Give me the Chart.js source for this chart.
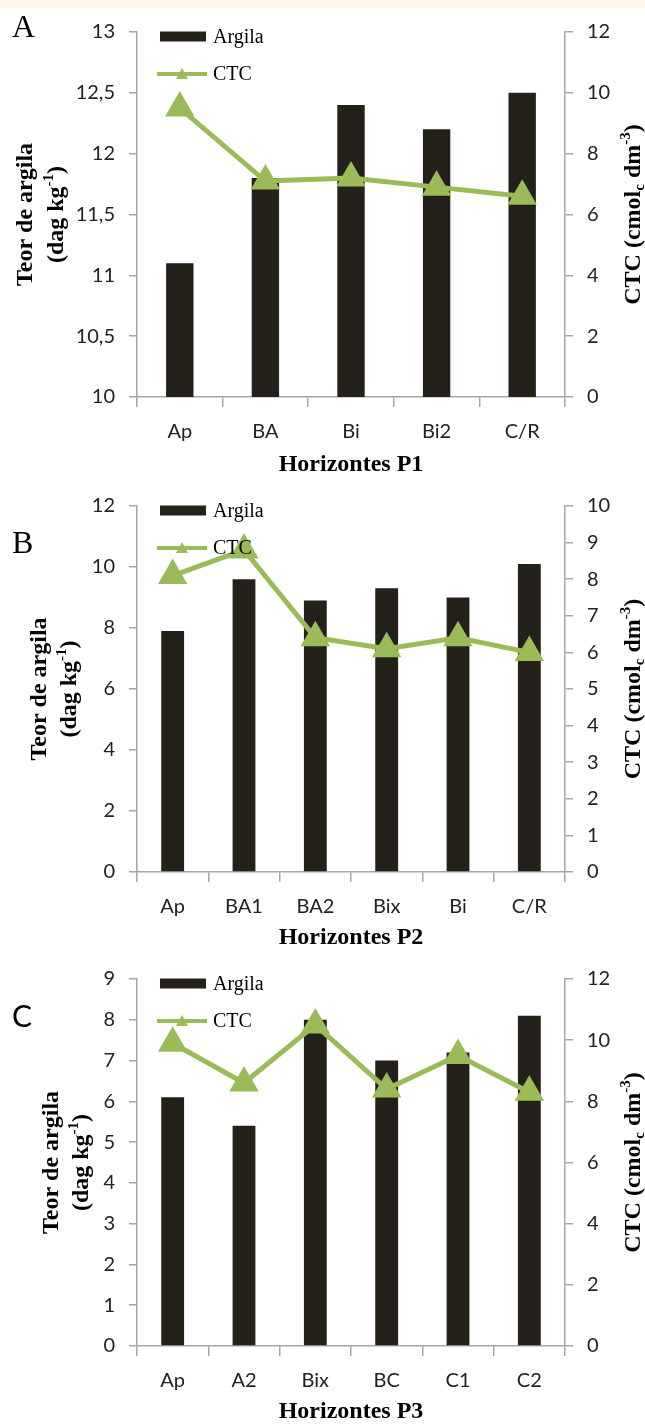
<!DOCTYPE html>
<html lang="pt-br">
<head>
<meta charset="UTF-8">
<title>Argila e CTC por horizonte</title>
<style>
    body { margin: 0; background: #fff; }
    .faixa { position: absolute; left: 0; top: 0; width: 645px; height: 8px; background: #fdf8e9; }
    canvas { position: absolute; left: 0; }
</style>
</head>
<body>
<div class="faixa"></div>
<canvas id="graficoA" width="645" height="480" style="top:0px"></canvas>
<canvas id="graficoB" width="645" height="470" style="top:480px"></canvas>
<canvas id="graficoC" width="645" height="475" style="top:950px"></canvas>
<script src="https://cdn.jsdelivr.net/npm/chart.js"></script>
<script>
const horizontesP1 = ['Ap', 'BA', 'Bi', 'Bi2', 'C/R']
const argilaP1 = [11.1, 11.8, 12.4, 12.2, 12.5]
const ctcP1 = [9.5, 7.1, 7.2, 6.9, 6.6]

const horizontesP2 = ['Ap', 'BA1', 'BA2', 'Bix', 'Bi', 'C/R']
const argilaP2 = [7.9, 9.6, 8.9, 9.3, 9.0, 10.1]
const ctcP2 = [8.1, 8.8, 6.4, 6.1, 6.4, 6.0]

const horizontesP3 = ['Ap', 'A2', 'Bix', 'BC', 'C1', 'C2']
const argilaP3 = [6.1, 5.4, 8.0, 7.0, 7.2, 8.1]
const ctcP3 = [9.9, 8.6, 10.5, 8.4, 9.5, 8.3]

// eixos: [min, max, passo]
const eixoArgilaP1 = [10, 13, 0.5]
const eixoCtcP1 = [0, 12, 2]
const eixoArgilaP2 = [0, 12, 2]
const eixoCtcP2 = [0, 10, 1]
const eixoArgilaP3 = [0, 9, 1]
const eixoCtcP3 = [0, 12, 2]

const corBarra = '#24211a'
const corLinha = '#9bbb59'
const corEixo = '#a6a6a6'
const fonteTick = { family: 'Lato, "Liberation Sans", sans-serif', size: 20 }
const serifNegrito = 'bold 24px "Liberation Serif", "DejaVu Serif", serif'

// escreve um texto com partes em sobrescrito/subscrito, centrado em (0,0)
function textoRico(ctx, partes) {
    const fonteNormal = serifNegrito
    const fontePequena = 'bold 15px "Liberation Serif", "DejaVu Serif", serif'
    let total = 0
    partes.forEach(p => {
        ctx.font = p.tipo ? fontePequena : fonteNormal
        p.w = ctx.measureText(p.t).width
        total += p.w
    })
    let x = -total / 2
    ctx.textAlign = 'left'
    ctx.textBaseline = 'middle'
    partes.forEach(p => {
        ctx.font = p.tipo ? fontePequena : fonteNormal
        let dy = 0
        if (p.tipo === 'sup') dy = -8
        if (p.tipo === 'sub') dy = 6
        ctx.fillText(p.t, x, dy)
        x += p.w
    })
}

const rotulos = {
    id: 'rotulos',
    afterDraw(chart, args, opts) {
        const ctx = chart.ctx
        const area = chart.chartArea
        const meio = (area.top + area.bottom) / 2
        ctx.save()
        ctx.fillStyle = '#000'

        // letra do painel
        ctx.font = opts.fonteLetra
        ctx.textAlign = 'left'
        ctx.textBaseline = 'alphabetic'
        ctx.fillText(opts.letra, 12, opts.letraY)

        // legenda
        const l1 = area.top + 4.5
        const l2 = area.top + 42
        ctx.fillStyle = corBarra
        ctx.fillRect(160, l1 - 5, 46, 10)
        ctx.strokeStyle = corLinha
        ctx.lineWidth = 4
        ctx.beginPath()
        ctx.moveTo(157, l2)
        ctx.lineTo(207, l2)
        ctx.stroke()
        ctx.fillStyle = corLinha
        ctx.beginPath()
        ctx.moveTo(182, l2 - 6)
        ctx.lineTo(188, l2 + 5)
        ctx.lineTo(176, l2 + 5)
        ctx.closePath()
        ctx.fill()
        ctx.fillStyle = '#000'
        ctx.font = '20px "Liberation Serif", serif'
        ctx.textBaseline = 'middle'
        ctx.fillText('Argila', 213, l1 + 1)
        ctx.fillText('CTC', 213, l2 + 1)

        // titulo do eixo esquerdo (duas linhas)
        ctx.save()
        ctx.translate(opts.tituloX[0], meio)
        ctx.rotate(-Math.PI / 2)
        ctx.font = serifNegrito
        ctx.textAlign = 'center'
        ctx.fillText('Teor de argila', 0, 0)
        ctx.restore()
        ctx.save()
        ctx.translate(opts.tituloX[1], meio)
        ctx.rotate(-Math.PI / 2)
        textoRico(ctx, [{ t: '(dag kg' }, { t: '-1', tipo: 'sup' }, { t: ')' }])
        ctx.restore()

        // titulo do eixo direito
        ctx.save()
        ctx.translate(634, meio)
        ctx.rotate(-Math.PI / 2)
        textoRico(ctx, [{ t: 'CTC (cmol' }, { t: 'c', tipo: 'sub' }, { t: ' dm' }, { t: '-3', tipo: 'sup' }, { t: ')' }])
        ctx.restore()

        // titulo do eixo x
        ctx.font = serifNegrito
        ctx.textAlign = 'center'
        ctx.textBaseline = 'middle'
        ctx.fillText(opts.tituloBase, (area.left + area.right) / 2, area.bottom + opts.tituloBaseY)
        ctx.restore()
    }
}

const virgula = v => String(v).replace('.', ',')

function montarGrafico(id, p) {
    const el = document.getElementById(id)
    const altura = el.height
    return new Chart(el, {
        data: {
            labels: p.horizontes,
            datasets: [
                {
                    type: 'line', label: 'CTC', data: p.ctc, yAxisID: 'y1',
                    borderColor: corLinha, backgroundColor: corLinha, borderWidth: 5,
                    pointStyle: 'triangle', pointRadius: 12, pointHoverRadius: 12,
                    tension: 0, order: 0
                },
                {
                    type: 'bar', label: 'Argila', data: p.argila, yAxisID: 'y',
                    backgroundColor: corBarra, barPercentage: 0.32, categoryPercentage: 1, order: 1
                }
            ]
        },
        options: {
            responsive: false,
            animation: false,
            layout: { padding: { top: p.topo, left: 0, right: 0, bottom: 0 } },
            plugins: {
                legend: { display: false },
                tooltip: { enabled: false },
                rotulos: {
                    letra: p.letra, letraY: p.letraY, fonteLetra: p.fonteLetra,
                    tituloX: p.tituloX, tituloBase: p.tituloBase, tituloBaseY: p.tituloBaseY
                }
            },
            scales: {
                x: {
                    offset: true,
                    grid: { offset: true, drawOnChartArea: false, tickLength: 10, color: corEixo, lineWidth: 1.5 },
                    border: { color: corEixo, width: 1.5 },
                    ticks: { font: fonteTick, color: '#222', padding: 13 },
                    afterFit: s => { s.height = altura - p.base }
                },
                y: {
                    position: 'left',
                    min: p.eixoArgila[0], max: p.eixoArgila[1],
                    ticks: { stepSize: p.eixoArgila[2], callback: virgula, font: fonteTick, color: '#222', padding: 14 },
                    grid: { drawOnChartArea: false, tickLength: 8, color: corEixo, lineWidth: 1.5 },
                    border: { color: corEixo, width: 1.5 },
                    afterFit: s => { s.width = 137 }
                },
                y1: {
                    position: 'right',
                    min: p.eixoCtc[0], max: p.eixoCtc[1],
                    ticks: { stepSize: p.eixoCtc[2], callback: virgula, font: fonteTick, color: '#222', padding: 14 },
                    grid: { drawOnChartArea: false, tickLength: 8, color: corEixo, lineWidth: 1.5 },
                    border: { color: corEixo, width: 1.5 },
                    afterFit: s => { s.width = 80 }
                }
            }
        },
        plugins: [rotulos]
    })
}

montarGrafico('graficoA', {
    horizontes: horizontesP1, argila: argilaP1, ctc: ctcP1,
    eixoArgila: eixoArgilaP1, eixoCtc: eixoCtcP1,
    topo: 32, base: 397,
    letra: 'A', letraY: 37, fonteLetra: '32px "Liberation Serif", serif',
    tituloX: [26, 57], tituloBase: 'Horizontes P1', tituloBaseY: 68
})

montarGrafico('graficoB', {
    horizontes: horizontesP2, argila: argilaP2, ctc: ctcP2,
    eixoArgila: eixoArgilaP2, eixoCtc: eixoCtcP2,
    topo: 25, base: 392,
    letra: 'B', letraY: 73, fonteLetra: '32px "Liberation Serif", serif',
    tituloX: [40, 70], tituloBase: 'Horizontes P2', tituloBaseY: 66
})

montarGrafico('graficoC', {
    horizontes: horizontesP3, argila: argilaP3, ctc: ctcP3,
    eixoArgila: eixoArgilaP3, eixoCtc: eixoCtcP3,
    topo: 29, base: 396,
    letra: 'C', letraY: 77, fonteLetra: '30px Lato, sans-serif',
    tituloX: [52, 82], tituloBase: 'Horizontes P3', tituloBaseY: 66
})
</script>
</body>
</html>
